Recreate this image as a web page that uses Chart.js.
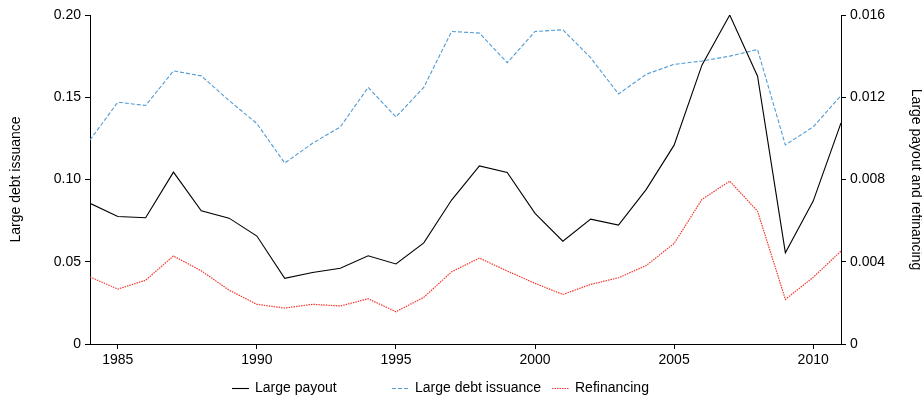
<!DOCTYPE html>
<html>
<head>
<meta charset="utf-8">
<script src="https://cdn.jsdelivr.net/npm/chart.js@4.4.1/dist/chart.umd.min.js"></script>
<style>
html,body{margin:0;padding:0;background:#fff;}
#wrap{width:922px;height:395px;position:relative;}
</style>
</head>
<body>
<div id="wrap"><canvas id="c"></canvas></div>
<script>
const years = [1984,1985,1986,1987,1988,1989,1990,1991,1992,1993,1994,1995,1996,1997,1998,1999,2000,2001,2002,2003,2004,2005,2006,2007,2008,2009,2010,2011];
const largePayout = [0.00684,0.00620,0.00614,0.00836,0.00648,0.00612,0.00525,0.00319,0.00348,0.00368,0.00429,0.00389,0.00492,0.00700,0.00866,0.00834,0.00635,0.00500,0.00607,0.00578,0.00752,0.00967,0.01356,0.01600,0.01302,0.00444,0.00695,0.01075];
const largeDebt = [0.124,0.147,0.145,0.166,0.163,0.148,0.134,0.110,0.122,0.132,0.156,0.138,0.156,0.190,0.189,0.171,0.190,0.191,0.174,0.152,0.164,0.170,0.172,0.175,0.179,0.121,0.132,0.151];
const refinancing = [0.00326,0.00267,0.00310,0.00428,0.00356,0.00262,0.00193,0.00175,0.00193,0.00185,0.00220,0.00157,0.00227,0.00351,0.00418,0.00355,0.00295,0.00241,0.00290,0.00322,0.00382,0.00489,0.00703,0.00792,0.00646,0.00217,0.00324,0.00452];
const xTicks = [1985,1990,1995,2000,2005,2010];
const leftTicks = [0,0.05,0.10,0.15,0.20];
const rightTicks = [0,0.004,0.008,0.012,0.016];
const seriesNames = ['Large payout','Large debt issuance','Refinancing'];

const FONT = {family:'"Liberation Sans", Arial, Helvetica, sans-serif', size:14};

const pts = arr => arr.map((v,i)=>({x:years[i], y:v}));

const legendPlugin = {
  id:'customLegend',
  afterDraw(chart){
    const ctx = chart.ctx;
    const startX = 232, colW = 160, yC = 388;
    ctx.save();
    ctx.font = '14px ' + FONT.family;
    ctx.textBaseline = 'middle';
    ctx.fillStyle = '#000';
    chart.data.datasets.forEach((ds,i)=>{
      const x = startX + i*colW;
      ctx.beginPath();
      ctx.strokeStyle = ds.borderColor;
      ctx.lineWidth = ds.borderWidth;
      ctx.setLineDash(ds.borderDash || []);
      ctx.moveTo(x, yC+0.5);
      ctx.lineTo(x+17, yC+0.5);
      ctx.stroke();
      ctx.setLineDash([]);
      ctx.fillText(ds.label, x+23, yC);
    });
    ctx.restore();
  }
};

const axisCommon = {
  grid:{drawOnChartArea:false, drawTicks:true, tickLength:5, color:'#000', lineWidth:1},
  border:{display:true, color:'#000', width:1}
};

new Chart(document.getElementById('c'), {
  type:'line',
  data:{
    datasets:[
      {label:seriesNames[0], data:pts(largePayout), yAxisID:'y1', borderColor:'#000000', borderWidth:1.1, pointRadius:0, tension:0, fill:false},
      {label:seriesNames[1], data:pts(largeDebt), yAxisID:'y', borderColor:'#4f9bd6', borderWidth:1.1, borderDash:[4,2], pointRadius:0, tension:0, fill:false},
      {label:seriesNames[2], data:pts(refinancing), yAxisID:'y1', borderColor:'#f2382c', borderWidth:1.2, borderDash:[1.5,1], pointRadius:0, tension:0, fill:false}
    ]
  },
  options:{
    responsive:true,
    maintainAspectRatio:false,
    animation:false,
    devicePixelRatio:1,
    layout:{padding:{top:15,left:0,right:0,bottom:0}},
    plugins:{legend:{display:false}, tooltip:{enabled:false}},
    scales:{
      x:{
        type:'linear', position:'bottom', min:1984, max:2011,
        afterBuildTicks(s){ s.ticks = xTicks.map(v=>({value:v})); },
        afterFit(s){ s.height = 51; },
        ticks:{font:FONT, color:'#000', padding:3, maxRotation:0, autoSkip:false, callback:v=>String(v)},
        ...axisCommon
      },
      y:{
        type:'linear', position:'left', min:0, max:0.2,
        afterBuildTicks(s){ s.ticks = leftTicks.map(v=>({value:v})); },
        afterFit(s){ s.width = 90; },
        ticks:{font:FONT, color:'#000', padding:4, callback:v=> v===0 ? '0' : v.toFixed(2)},
        title:{display:true, text:'Large debt issuance', font:FONT, color:'#000', padding:{top:8,bottom:4}},
        ...axisCommon
      },
      y1:{
        type:'linear', position:'right', min:0, max:0.016,
        afterBuildTicks(s){ s.ticks = rightTicks.map(v=>({value:v})); },
        afterFit(s){ s.width = 81; },
        ticks:{font:FONT, color:'#000', padding:4, callback:v=> v===0 ? '0' : v.toFixed(3)},
        title:{display:true, text:'Large payout and refinancing', font:FONT, color:'#000', padding:{top:-2,bottom:4}},
        ...axisCommon
      }
    }
  },
  plugins:[legendPlugin]
});
</script>
</body>
</html>
